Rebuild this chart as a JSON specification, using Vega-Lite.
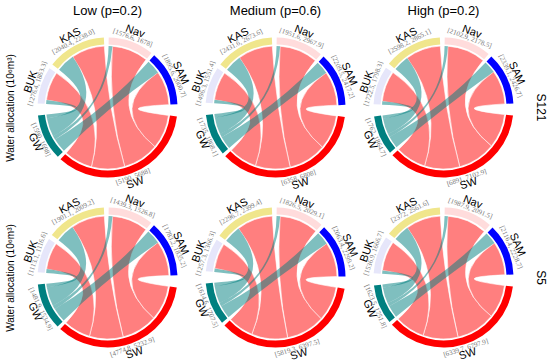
{
  "$schema": "https://vega.github.io/schema/vega-lite/v6.json",
  "background": "white",
  "padding": 5,
  "bounds": "flush",
  "config": {"view": {"stroke": null}},
  "data": {"values": [
    {"s":"S121","p":"Low (p=0.2)","from":"GW","to":"Nav","v":151},
    {"s":"S121","p":"Low (p=0.2)","from":"GW","to":"SAM","v":556},
    {"s":"S121","p":"Low (p=0.2)","from":"GW","to":"KAS","v":732},
    {"s":"S121","p":"Low (p=0.2)","from":"GW","to":"BUK","v":151},
    {"s":"S121","p":"Low (p=0.2)","from":"SW","to":"Nav","v":1425.6},
    {"s":"S121","p":"Low (p=0.2)","from":"SW","to":"SAM","v":1339.6},
    {"s":"S121","p":"Low (p=0.2)","from":"SW","to":"KAS","v":1308.4},
    {"s":"S121","p":"Low (p=0.2)","from":"SW","to":"BUK","v":1125.4},
    {"s":"S121","p":"Medium (p=0.6)","from":"GW","to":"Nav","v":165},
    {"s":"S121","p":"Medium (p=0.6)","from":"GW","to":"SAM","v":607},
    {"s":"S121","p":"Medium (p=0.6)","from":"GW","to":"KAS","v":798},
    {"s":"S121","p":"Medium (p=0.6)","from":"GW","to":"BUK","v":165},
    {"s":"S121","p":"Medium (p=0.6)","from":"SW","to":"Nav","v":1786.6},
    {"s":"S121","p":"Medium (p=0.6)","from":"SW","to":"SAM","v":1602.5},
    {"s":"S121","p":"Medium (p=0.6)","from":"SW","to":"KAS","v":1633.6},
    {"s":"S121","p":"Medium (p=0.6)","from":"SW","to":"BUK","v":1331.3},
    {"s":"S121","p":"High (p=0.2)","from":"GW","to":"Nav","v":167},
    {"s":"S121","p":"High (p=0.2)","from":"GW","to":"SAM","v":617},
    {"s":"S121","p":"High (p=0.2)","from":"GW","to":"KAS","v":810},
    {"s":"S121","p":"High (p=0.2)","from":"GW","to":"BUK","v":168},
    {"s":"S121","p":"High (p=0.2)","from":"SW","to":"Nav","v":1935.9},
    {"s":"S121","p":"High (p=0.2)","from":"SW","to":"SAM","v":1722.1},
    {"s":"S121","p":"High (p=0.2)","from":"SW","to":"KAS","v":1788.2},
    {"s":"S121","p":"High (p=0.2)","from":"SW","to":"BUK","v":1554.5},
    {"s":"S5","p":"Low (p=0.2)","from":"GW","to":"Nav","v":140},
    {"s":"S5","p":"Low (p=0.2)","from":"GW","to":"SAM","v":519},
    {"s":"S5","p":"Low (p=0.2)","from":"GW","to":"KAS","v":682},
    {"s":"S5","p":"Low (p=0.2)","from":"GW","to":"BUK","v":141},
    {"s":"S5","p":"Low (p=0.2)","from":"SW","to":"Nav","v":1299.3},
    {"s":"S5","p":"Low (p=0.2)","from":"SW","to":"SAM","v":1264.2},
    {"s":"S5","p":"Low (p=0.2)","from":"SW","to":"KAS","v":1219.1},
    {"s":"S5","p":"Low (p=0.2)","from":"SW","to":"BUK","v":972.1},
    {"s":"S5","p":"Medium (p=0.6)","from":"GW","to":"Nav","v":154},
    {"s":"S5","p":"Medium (p=0.6)","from":"GW","to":"SAM","v":565},
    {"s":"S5","p":"Medium (p=0.6)","from":"GW","to":"KAS","v":743},
    {"s":"S5","p":"Medium (p=0.6)","from":"GW","to":"BUK","v":153},
    {"s":"S5","p":"Medium (p=0.6)","from":"SW","to":"Nav","v":1672.5},
    {"s":"S5","p":"Medium (p=0.6)","from":"SW","to":"SAM","v":1498.4},
    {"s":"S5","p":"Medium (p=0.6)","from":"SW","to":"KAS","v":1553.7},
    {"s":"S5","p":"Medium (p=0.6)","from":"SW","to":"BUK","v":1104.3},
    {"s":"S5","p":"High (p=0.2)","from":"GW","to":"Nav","v":154},
    {"s":"S5","p":"High (p=0.2)","from":"GW","to":"SAM","v":568},
    {"s":"S5","p":"High (p=0.2)","from":"GW","to":"KAS","v":747},
    {"s":"S5","p":"High (p=0.2)","from":"GW","to":"BUK","v":154},
    {"s":"S5","p":"High (p=0.2)","from":"SW","to":"Nav","v":1833.9},
    {"s":"S5","p":"High (p=0.2)","from":"SW","to":"SAM","v":1548.4},
    {"s":"S5","p":"High (p=0.2)","from":"SW","to":"KAS","v":1625},
    {"s":"S5","p":"High (p=0.2)","from":"SW","to":"BUK","v":1382.9},
    {"s":"S121","p":"Low (p=0.2)","sector":"Nav","rng":"[1576.6, 1678]"},
    {"s":"S121","p":"Low (p=0.2)","sector":"SAM","rng":"[1895.6, 2000.7]"},
    {"s":"S121","p":"Low (p=0.2)","sector":"SW","rng":"[5190, 5688]"},
    {"s":"S121","p":"Low (p=0.2)","sector":"GW","rng":"[1590, 1698]"},
    {"s":"S121","p":"Low (p=0.2)","sector":"BUK","rng":"[1276.4, 1863.3]"},
    {"s":"S121","p":"Low (p=0.2)","sector":"KAS","rng":"[2040.4, 2238.0]"},
    {"s":"S121","p":"Medium (p=0.6)","sector":"Nav","rng":"[1951.6, 2967.9]"},
    {"s":"S121","p":"Medium (p=0.6)","sector":"SAM","rng":"[2209.5, 2417.2]"},
    {"s":"S121","p":"Medium (p=0.6)","sector":"SW","rng":"[6358, 6808]"},
    {"s":"S121","p":"Medium (p=0.6)","sector":"GW","rng":"[1735, 1808.1]"},
    {"s":"S121","p":"Medium (p=0.6)","sector":"BUK","rng":"[1496.3, 1551.4]"},
    {"s":"S121","p":"Medium (p=0.6)","sector":"KAS","rng":"[2431.6, 2673.6]"},
    {"s":"S121","p":"High (p=0.2)","sector":"Nav","rng":"[2102.9, 2178.5]"},
    {"s":"S121","p":"High (p=0.2)","sector":"SAM","rng":"[2339.1, 2426.7]"},
    {"s":"S121","p":"High (p=0.2)","sector":"SW","rng":"[6891, 7102.9]"},
    {"s":"S121","p":"High (p=0.2)","sector":"GW","rng":"[1762, 1864.7]"},
    {"s":"S121","p":"High (p=0.2)","sector":"BUK","rng":"[1722.5, 1798.3]"},
    {"s":"S121","p":"High (p=0.2)","sector":"KAS","rng":"[2598.2, 2865.1]"},
    {"s":"S5","p":"Low (p=0.2)","sector":"Nav","rng":"[1439.3, 1526.8]"},
    {"s":"S5","p":"Low (p=0.2)","sector":"SAM","rng":"[1783.2, 1835.2]"},
    {"s":"S5","p":"Low (p=0.2)","sector":"SW","rng":"[4774.8, 5232.9]"},
    {"s":"S5","p":"Low (p=0.2)","sector":"GW","rng":"[1481.9, 1534.9]"},
    {"s":"S5","p":"Low (p=0.2)","sector":"BUK","rng":"[1113.1, 1116.6]"},
    {"s":"S5","p":"Low (p=0.2)","sector":"KAS","rng":"[1901.1, 2009.2]"},
    {"s":"S5","p":"Medium (p=0.6)","sector":"Nav","rng":"[1826.5, 2029.1]"},
    {"s":"S5","p":"Medium (p=0.6)","sector":"SAM","rng":"[2063.4, 2299.2]"},
    {"s":"S5","p":"Medium (p=0.6)","sector":"SW","rng":"[5819.3, 6397.5]"},
    {"s":"S5","p":"Medium (p=0.6)","sector":"GW","rng":"[1614.6, 1707.5]"},
    {"s":"S5","p":"Medium (p=0.6)","sector":"BUK","rng":"[1257.3, 1366.3]"},
    {"s":"S5","p":"Medium (p=0.6)","sector":"KAS","rng":"[2296.7, 2399.4]"},
    {"s":"S5","p":"High (p=0.2)","sector":"Nav","rng":"[1987.9, 2091.5]"},
    {"s":"S5","p":"High (p=0.2)","sector":"SAM","rng":"[2116.4, 2228.7]"},
    {"s":"S5","p":"High (p=0.2)","sector":"SW","rng":"[6339.7, 6797.9]"},
    {"s":"S5","p":"High (p=0.2)","sector":"GW","rng":"[1623.5, 1751.8]"},
    {"s":"S5","p":"High (p=0.2)","sector":"BUK","rng":"[1536.9, 1666.7]"},
    {"s":"S5","p":"High (p=0.2)","sector":"KAS","rng":"[2372, 2561.6]"}
  ]},
  "transform": [
    {"fold": ["from", "to", "sector"], "as": ["end", "sec"]},
    {"filter": "isValid(datum.sec)"},
    {"calculate": "isValid(datum.v) ? datum.v : 0", "as": "w"},
    {"calculate": "indexof(['Nav','SAM','SW','GW','BUK','KAS'], datum.sec)", "as": "si"},
    {"calculate": "datum.end == 'sector' ? -1 : (datum.end == 'to' ? (datum.from == 'GW' ? 0 : 1) : indexof(['SAM','Nav','KAS','BUK'], datum.to))", "as": "o"},
    {"window": [{"op": "sum", "field": "w", "as": "c1"}], "groupby": ["s", "p"], "sort": [{"field": "si", "order": "ascending"}, {"field": "o", "order": "ascending"}], "frame": [null, 0]},
    {"joinaggregate": [{"op": "sum", "field": "w", "as": "tot"}], "groupby": ["s", "p"]},
    {"joinaggregate": [{"op": "sum", "field": "w", "as": "st"}], "groupby": ["s", "p", "sec"]},
    {"calculate": "326 / datum.tot", "as": "k"},
    {"calculate": "1 + [0,3,13,16,26,30][datum.si] + (datum.c1 - datum.w) * datum.k", "as": "a0"},
    {"calculate": "datum.a0 + datum.w * datum.k", "as": "a1"},
    {"calculate": "datum.end == 'from' ? datum.a0 : null", "as": "sa0"},
    {"calculate": "datum.end == 'from' ? datum.a1 : null", "as": "sa1"},
    {"calculate": "datum.end == 'to' ? datum.a0 : null", "as": "ta0"},
    {"calculate": "datum.end == 'to' ? datum.a1 : null", "as": "ta1"},
    {"joinaggregate": [
      {"op": "max", "field": "sa0", "as": "A0"},
      {"op": "max", "field": "sa1", "as": "A1"},
      {"op": "max", "field": "ta0", "as": "B0"},
      {"op": "max", "field": "ta1", "as": "B1"}
    ], "groupby": ["s", "p", "from", "to"]},
    {"calculate": "round(sin(datum.A0*PI/180)*10000)/10000", "as": "ax0"},
    {"calculate": "round(-cos(datum.A0*PI/180)*10000)/10000", "as": "ay0"},
    {"calculate": "round(sin(datum.A1*PI/180)*10000)/10000", "as": "ax1"},
    {"calculate": "round(-cos(datum.A1*PI/180)*10000)/10000", "as": "ay1"},
    {"calculate": "round(sin((datum.A0+datum.A1)*PI/360)/cos((datum.A1-datum.A0)*PI/360)*10000)/10000", "as": "acx"},
    {"calculate": "round(-cos((datum.A0+datum.A1)*PI/360)/cos((datum.A1-datum.A0)*PI/360)*10000)/10000", "as": "acy"},
    {"calculate": "round(sin(datum.B0*PI/180)*10000)/10000", "as": "bx0"},
    {"calculate": "round(-cos(datum.B0*PI/180)*10000)/10000", "as": "by0"},
    {"calculate": "round(sin(datum.B1*PI/180)*10000)/10000", "as": "bx1"},
    {"calculate": "round(-cos(datum.B1*PI/180)*10000)/10000", "as": "by1"},
    {"calculate": "round(sin((datum.B0+datum.B1)*PI/360)/cos((datum.B1-datum.B0)*PI/360)*10000)/10000", "as": "bcx"},
    {"calculate": "round(-cos((datum.B0+datum.B1)*PI/360)/cos((datum.B1-datum.B0)*PI/360)*10000)/10000", "as": "bcy"},
    {"calculate": "'M ' + datum.ax0 + ' ' + datum.ay0 + ' Q ' + datum.acx + ' ' + datum.acy + ' ' + datum.ax1 + ' ' + datum.ay1 + ' Q 0 0 ' + datum.bx0 + ' ' + datum.by0 + ' Q ' + datum.bcx + ' ' + datum.bcy + ' ' + datum.bx1 + ' ' + datum.by1 + ' Q 0 0 ' + datum.ax0 + ' ' + datum.ay0 + ' Z'", "as": "path"},
    {"calculate": "datum.a0 + datum.st * datum.k / 2", "as": "m"},
    {"calculate": "(datum.m > 90 && datum.m < 270) ? datum.m - 180 : datum.m", "as": "ang"},
    {"calculate": "datum.a0 + datum.st * datum.k", "as": "ae"}
  ],
  "facet": {
    "row": {"field": "s", "type": "nominal", "sort": ["S121", "S5"],
      "header": {"title": null, "labelOrient": "right", "labelAngle": 90, "labelFontSize": 12, "labelFont": "Liberation Sans", "labelPadding": 8, "labelColor": "black"}},
    "column": {"field": "p", "type": "nominal", "sort": ["Low (p=0.2)", "Medium (p=0.6)", "High (p=0.2)"],
      "header": {"title": null, "labelFontSize": 13, "labelFont": "Liberation Sans", "labelPadding": 7, "labelColor": "black"}}
  },
  "spacing": {"row": 5, "column": 3},
  "spec": {
    "width": 165,
    "height": 165,
    "layer": [
      {
        "transform": [{"filter": "datum.end == 'sector'"}],
        "mark": {"type": "arc", "radius": 70, "radius2": 63},
        "encoding": {
          "theta": {"field": "a0", "type": "quantitative", "stack": null, "scale": {"domain": [0, 360], "range": [0, 6.283185307]}},
          "theta2": {"field": "ae"},
          "color": {"field": "sec", "type": "nominal", "legend": null,
            "scale": {"domain": ["Nav", "SAM", "SW", "GW", "BUK", "KAS"], "range": ["#FFDCDC", "#0000FF", "#FF0000", "#008080", "#E6E6FA", "#F0E68C"]}}
        }
      },
      {
        "transform": [{"filter": "datum.end == 'from' && datum.from == 'SW'"}],
        "mark": {"type": "point", "filled": true, "size": 15129, "fill": "#FF0000", "fillOpacity": 0.5, "stroke": "white", "strokeWidth": 0.6, "strokeOpacity": 1},
        "encoding": {
          "x": {"datum": 0, "type": "quantitative", "scale": {"domain": [-1, 1]}, "axis": null},
          "y": {"datum": 0, "type": "quantitative", "scale": {"domain": [-1, 1]},
            "axis": {"title": "Water allocation (10⁶m³)", "labels": false, "ticks": false, "domain": false, "grid": false, "titleFontSize": 10, "titleFont": "Liberation Sans", "titleFontWeight": "normal", "titlePadding": 10, "titleColor": "black"}},
          "shape": {"field": "path", "type": "nominal", "scale": null, "legend": null}
        }
      },
      {
        "transform": [{"filter": "datum.end == 'from' && datum.from == 'GW'"}],
        "mark": {"type": "point", "filled": true, "size": 15129, "fill": "#008080", "fillOpacity": 0.5, "strokeWidth": 0},
        "encoding": {
          "x": {"datum": 0, "type": "quantitative"},
          "y": {"datum": 0, "type": "quantitative"},
          "shape": {"field": "path", "type": "nominal", "scale": null, "legend": null}
        }
      },
      {
        "transform": [{"filter": "datum.end == 'sector'"}],
        "mark": {"type": "text", "radius": 80.5, "fontSize": 11, "font": "Liberation Sans", "color": "black", "align": "center", "baseline": "middle"},
        "encoding": {
          "theta": {"field": "m", "type": "quantitative", "stack": null},
          "angle": {"field": "ang", "type": "quantitative", "scale": null},
          "text": {"field": "sec"}
        }
      },
      {
        "transform": [{"filter": "datum.end == 'sector'"}],
        "mark": {"type": "text", "radius": 74, "fontSize": 7, "font": "Liberation Serif", "color": "#777777", "align": "center", "baseline": "middle"},
        "encoding": {
          "theta": {"field": "m", "type": "quantitative", "stack": null},
          "angle": {"field": "ang", "type": "quantitative", "scale": null},
          "text": {"field": "rng"}
        }
      }
    ]
  }
}
